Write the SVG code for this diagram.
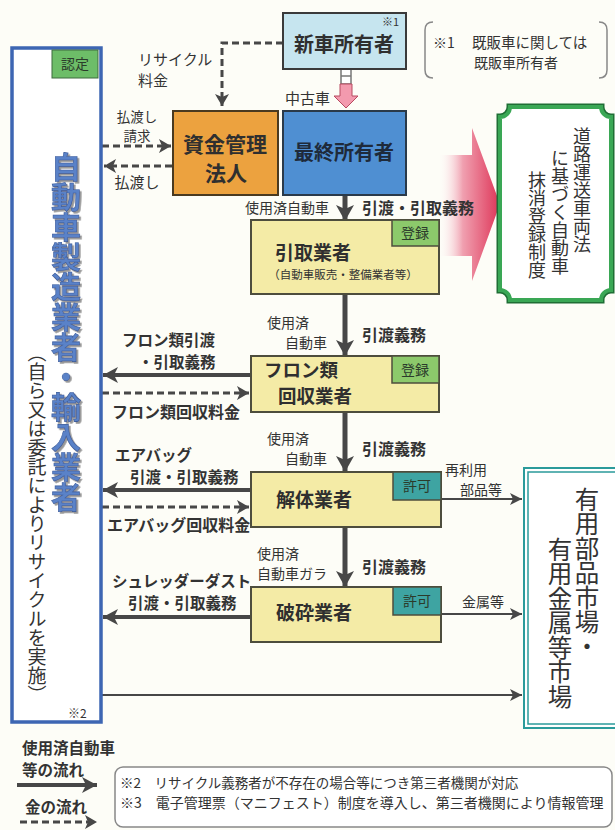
<svg xmlns="http://www.w3.org/2000/svg" width="615" height="830" viewBox="0 0 615 830">
<defs>
<style>
text{font-family:"Noto Sans CJK JP","Noto Sans",sans-serif;fill:#333}
.b{font-weight:700}
.lbl{font-size:14px}
.blbl{font-size:16px;font-weight:700}
.node{font-size:19.5px;font-weight:700;fill:#2f2f2f}
.vert{writing-mode:vertical-rl}
.ybox{fill:#f4eba6;stroke:#4d4d3d;stroke-width:2}
.tabg{fill:#8cc96b;stroke:#4d4d3d;stroke-width:1.5}
.tabt{fill:#3ea4a2;stroke:#4d4d3d;stroke-width:1.5}
.tabtxt{font-size:14px;fill:#2b3b2b;text-anchor:middle}
.flow{stroke:#474747;stroke-width:5;fill:none}
.side{stroke:#474747;stroke-width:4;fill:none}
.thin{stroke:#474747;stroke-width:2;fill:none}
.dash{stroke:#474747;stroke-width:3;fill:none;stroke-dasharray:7 4}
</style>
<filter id="sh" x="-20%" y="-5%" width="140%" height="110%">
<feDropShadow dx="1.8" dy="1.8" stdDeviation="0.6" flood-color="#8a8a8a" flood-opacity="0.9"/>
</filter>
<marker id="ahF" markerUnits="userSpaceOnUse" markerWidth="20" markerHeight="20" refX="16" refY="9" orient="auto">
<path d="M0,0 L16,9 L0,18 L4,9 Z" fill="#474747"/>
</marker>
<marker id="ahS" markerUnits="userSpaceOnUse" markerWidth="18" markerHeight="18" refX="15" refY="8" orient="auto">
<path d="M0,0 L15,8 L0,16 L4,8 Z" fill="#474747"/>
</marker>
<marker id="ahD" markerUnits="userSpaceOnUse" markerWidth="16" markerHeight="16" refX="12" refY="7" orient="auto">
<path d="M0,0 L12,7 L0,14 L3,7 Z" fill="#474747"/>
</marker>
<marker id="ahT" markerUnits="userSpaceOnUse" markerWidth="14" markerHeight="14" refX="12" refY="6" orient="auto">
<path d="M0,0 L12,6 L0,12 L3,6 Z" fill="#474747"/>
</marker>
<linearGradient id="red" x1="0" y1="0" x2="1" y2="0">
<stop offset="0" stop-color="#ffffff" stop-opacity="0"/>
<stop offset="0.4" stop-color="#f0a0b0"/>
<stop offset="1" stop-color="#de3558"/>
</linearGradient>
</defs>
<rect x="0" y="0" width="615" height="830" fill="#fdfdf7"/>

<g id="connectors">
<path class="dash" d="M283,43 H222 V106" marker-end="url(#ahD)"/>
<path class="dash" d="M102,146 H171" marker-end="url(#ahD)"/>
<path class="dash" d="M172,166 H104" marker-end="url(#ahD)"/>
<rect x="341" y="69" width="10" height="15" fill="#fff" stroke="#777" stroke-width="1.5"/>
<line x1="341" y1="76" x2="351" y2="76" stroke="#777" stroke-width="1.5"/>
<path d="M340,84 H352 V96 H358 L346,108 L334,96 H340 Z" fill="#f39aae" stroke="#b84a60" stroke-width="1"/>
<line class="flow" x1="345" y1="195" x2="345" y2="221" marker-end="url(#ahF)"/>
<line class="flow" x1="345" y1="294" x2="345" y2="356" marker-end="url(#ahF)"/>
<line class="flow" x1="345" y1="412" x2="345" y2="472" marker-end="url(#ahF)"/>
<line class="flow" x1="345" y1="527" x2="345" y2="587" marker-end="url(#ahF)"/>
<line class="side" x1="251" y1="375" x2="103" y2="375" marker-end="url(#ahS)"/>
<line class="dash" x1="102" y1="393" x2="249" y2="393" marker-end="url(#ahD)"/>
<line class="side" x1="251" y1="490" x2="103" y2="490" marker-end="url(#ahS)"/>
<line class="dash" x1="102" y1="507" x2="249" y2="507" marker-end="url(#ahD)"/>
<line class="side" x1="251" y1="617" x2="103" y2="617" marker-end="url(#ahS)"/>
<line class="thin" x1="441" y1="499" x2="522" y2="499" marker-end="url(#ahT)"/>
<line class="thin" x1="441" y1="614" x2="522" y2="614" marker-end="url(#ahT)"/>
<line class="thin" x1="102" y1="695" x2="522" y2="695" marker-end="url(#ahT)"/>
<path d="M438,155 H472 V128 L500,204 L472,281 V256 H438 Z" fill="url(#red)"/>
</g>

<g id="labels">
<text style="font-size:15px"><tspan x="138" y="65">リサイクル</tspan><tspan x="138" y="86">料金</tspan></text>
<text text-anchor="middle" style="font-size:13.5px"><tspan x="137" y="122">払渡し</tspan><tspan x="137" y="141">請求</tspan></text>
<text x="137" y="188" text-anchor="middle" style="font-size:15px">払渡し</text>
<text x="285" y="104" style="font-size:15px">中古車</text>

<text class="lbl" x="329" y="213" text-anchor="end">使用済自動車</text>
<text class="blbl" x="362" y="214">引渡・引取義務</text>
<text class="lbl"><tspan x="267" y="328">使用済</tspan><tspan x="285" y="348">自動車</tspan></text>
<text class="blbl" x="362" y="341">引渡義務</text>
<text class="lbl"><tspan x="267" y="444">使用済</tspan><tspan x="285" y="464">自動車</tspan></text>
<text class="blbl" x="362" y="455">引渡義務</text>
<text class="lbl"><tspan x="257" y="559">使用済</tspan><tspan x="257" y="579">自動車ガラ</tspan></text>
<text class="blbl" x="362" y="573">引渡義務</text>

<text class="blbl" style="font-size:15.5px"><tspan x="122" y="346">フロン類引渡</tspan><tspan x="138" y="368">・引取義務</tspan></text>
<text class="blbl" x="112" y="418">フロン類回収料金</text>
<text class="blbl" style="font-size:15.5px"><tspan x="115" y="461">エアバッグ</tspan><tspan x="130" y="483">引渡・引取義務</tspan></text>
<text class="blbl" x="107" y="531">エアバッグ回収料金</text>
<text class="blbl" style="font-size:15.5px"><tspan x="112" y="587">シュレッダーダスト</tspan><tspan x="128" y="609">引渡・引取義務</tspan></text>

<text class="lbl"><tspan x="445" y="475">再利用</tspan><tspan x="460" y="495">部品等</tspan></text>
<text class="lbl" x="462" y="607">金属等</text>
</g>

<g id="maker">
<rect x="12" y="48" width="89" height="674" fill="#fff" stroke="#3d66b3" stroke-width="3.5"/>
<rect x="52" y="50" width="46" height="28" fill="#6dbd68" stroke="#3f6a3f" stroke-width="1"/>
<text class="tabtxt" x="75" y="69">認定</text>
<text class="b vert" x="66" y="152" filter="url(#sh)" style="font-size:30px;fill:#5a82c8;stroke:#3a5a98;stroke-width:0.6">自動車製造業者・輸入業者</text>
<text class="vert" x="37" y="343" style="font-size:19px">（自ら又は委託によりリサイクルを実施）</text>
<text x="68" y="718" style="font-size:12px">※2</text>
</g>

<g id="new-owner">
<rect x="283" y="13" width="123" height="56" fill="#c6e5ef" stroke="#3a3a3a" stroke-width="2"/>
<text x="382" y="26" style="font-size:11px">※1</text>
<text class="node" x="344" y="52" text-anchor="middle" style="font-size:20px">新車所有者</text>
</g>

<g id="note1">
<path d="M433,22 Q425,22 425,30 V70 Q425,78 433,78" fill="none" stroke="#888" stroke-width="1.5"/>
<path d="M599,22 Q607,22 607,30 V70 Q607,78 599,78" fill="none" stroke="#888" stroke-width="1.5"/>
<text style="font-size:14.5px"><tspan x="433" y="48" style="font-size:14px">※1</tspan><tspan x="472" y="48">既販車に関しては</tspan><tspan x="474" y="68" style="font-size:14px">既販車所有者</tspan></text>
</g>

<g id="fund">
<rect x="173" y="111" width="105" height="84" fill="#eca23f" stroke="#4a3a20" stroke-width="2"/>
<text class="node" text-anchor="middle" style="font-size:21px"><tspan x="225" y="152">資金管理</tspan><tspan x="226" y="181">法人</tspan></text>
</g>

<g id="final-owner">
<rect x="283" y="111" width="123" height="84" fill="#4f8fd2" stroke="#2a3a4a" stroke-width="2"/>
<text class="node" x="344" y="160" text-anchor="middle" style="font-size:20px;fill:#1e2a3a">最終所有者</text>
</g>

<g id="deregistration">
<path d="M510,107 H601 A10,10 0 0 0 611,117 V290 A10,10 0 0 0 601,300 H510 A10,10 0 0 0 500,290 V117 A10,10 0 0 0 510,107 Z" fill="#fff" stroke="#1f6e35" stroke-width="7"/>
<path d="M510,107 H601 A10,10 0 0 0 611,117 V290 A10,10 0 0 0 601,300 H510 A10,10 0 0 0 500,290 V117 A10,10 0 0 0 510,107 Z" fill="#fff" stroke="#3aa755" stroke-width="4"/>
<text class="vert" x="582" y="127" style="font-size:18px">道路運送車両法</text>
<text class="vert" x="560" y="149" style="font-size:18px">に基づく自動車</text>
<text class="vert" x="537" y="171" style="font-size:18px">抹消登録制度</text>
</g>

<g id="collector">
<rect class="ybox" x="251" y="220" width="188" height="74"/>
<rect class="tabg" x="392" y="220" width="47" height="26"/>
<text class="tabtxt" x="415" y="238">登録</text>
<text class="node" x="313" y="260" text-anchor="middle" style="font-size:19px">引取業者</text>
<text x="343" y="279" text-anchor="middle" style="font-size:11.5px">（自動車販売・整備業者等）</text>
</g>

<g id="freon">
<rect class="ybox" x="251" y="356" width="188" height="56"/>
<rect class="tabg" x="392" y="356" width="47" height="27"/>
<text class="tabtxt" x="415" y="375">登録</text>
<text class="node" text-anchor="middle" style="font-size:18.5px"><tspan x="301" y="377">フロン類</tspan><tspan x="315" y="403">回収業者</tspan></text>
</g>

<g id="dismantler">
<rect class="ybox" x="251" y="472" width="190" height="55"/>
<rect class="tabt" x="393" y="472" width="48" height="28"/>
<text class="tabtxt" x="417" y="491">許可</text>
<text class="node" x="314" y="507" text-anchor="middle" style="font-size:19px">解体業者</text>
</g>

<g id="shredder">
<rect class="ybox" x="251" y="587" width="190" height="55"/>
<rect class="tabt" x="393" y="587" width="48" height="28"/>
<text class="tabtxt" x="417" y="606">許可</text>
<text class="node" x="314" y="620" text-anchor="middle" style="font-size:19px">破砕業者</text>
</g>

<g id="market">
<rect x="524" y="468" width="100" height="260" fill="#fff" stroke="#2b9b9b" stroke-width="2"/>
<rect x="528" y="472" width="100" height="252" fill="none" stroke="#2b9b9b" stroke-width="1.5"/>
<text class="vert" x="587" y="487" style="font-size:24.5px">有用部品市場・</text>
<text class="vert" x="560" y="537" style="font-size:24.5px">有用金属等市場</text>
</g>

<g id="legend">
<text class="b" style="font-size:15.5px"><tspan x="22" y="754">使用済自動車</tspan><tspan x="22" y="776">等の流れ</tspan></text>
<line class="side" x1="17" y1="785" x2="97" y2="785" marker-end="url(#ahS)"/>
<text class="b" x="25" y="813" style="font-size:15.5px">金の流れ</text>
<line class="dash" x1="20" y1="822" x2="97" y2="822" marker-end="url(#ahD)"/>
</g>

<g id="note2">
<rect x="115" y="767" width="497" height="60" rx="8" fill="#fff" stroke="#888" stroke-width="1.5"/>
<text style="font-size:13.5px"><tspan x="120" y="788">※2　リサイクル義務者が不存在の場合等につき第三者機関が対応</tspan><tspan x="120" y="808" style="font-size:14px">※3　電子管理票（マニフェスト）制度を導入し、第三者機関により情報管理</tspan></text>
</g>
</svg>
